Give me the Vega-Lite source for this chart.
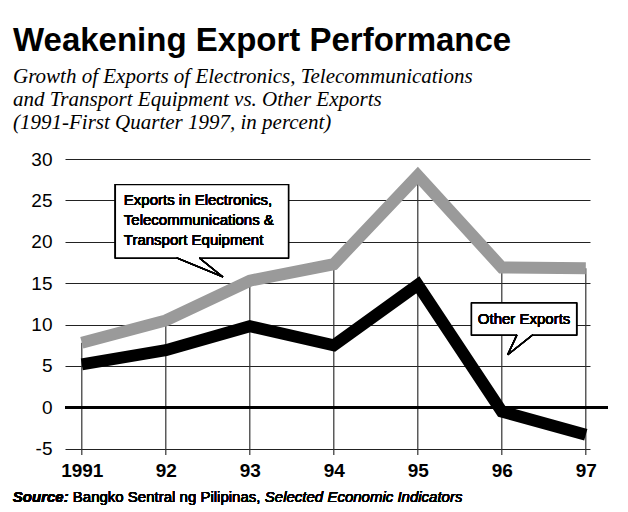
{
  "$schema": "https://vega.github.io/schema/vega-lite/v6.json",
  "autosize": {"type": "none"},
  "width": 525,
  "height": 296,
  "padding": {"left": 65, "top": 159, "right": 38, "bottom": 57},
  "background": "white",
  "title": {
    "text": "Weakening Export Performance",
    "subtitle": ["Growth of Exports of Electronics, Telecommunications", "and Transport Equipment vs. Other Exports", "(1991-First Quarter 1997, in percent)"],
    "anchor": "start",
    "frame": "group",
    "dx": -52,
    "offset": 17,
    "font": "Liberation Sans",
    "fontSize": 33,
    "fontWeight": "bold",
    "color": "black",
    "subtitleFont": "Liberation Serif",
    "subtitleFontStyle": "italic",
    "subtitleFontSize": 21,
    "subtitleColor": "black",
    "subtitleLineHeight": 23,
    "subtitlePadding": 8
  },
  "data": {"values": [
    {"year": 1991, "electronics": 7.8, "other": 5.2},
    {"year": 1992, "electronics": 10.5, "other": 6.9},
    {"year": 1993, "electronics": 15.3, "other": 9.8},
    {"year": 1994, "electronics": 17.3, "other": 7.5},
    {"year": 1995, "electronics": 28.0, "other": 14.8},
    {"year": 1996, "electronics": 16.9, "other": -0.5},
    {"year": 1997, "electronics": 16.8, "other": -3.3}
  ]},
  "encoding": {
    "x": {
      "field": "year", "type": "quantitative",
      "scale": {"domain": [1990.8, 1997.05], "nice": false, "zero": false},
      "axis": {
        "values": [1991, 1992, 1993, 1994, 1995, 1996, 1997],
        "labelExpr": "datum.value == 1991 ? '1991' : slice(toString(datum.value), 2)",
        "title": null, "grid": false, "domain": false, "ticks": false,
        "labelFont": "Liberation Sans",
        "labelFontSize": 19, "labelFontWeight": "bold", "labelColor": "black",
        "labelPadding": 6
      }
    }
  },
  "layer": [
    {
      "mark": {"type": "rule", "color": "#333", "strokeWidth": 1.2},
      "encoding": {
        "y": {
          "field": "electronics", "type": "quantitative",
          "scale": {"domain": [-5.75, 30], "nice": false, "zero": false},
          "axis": {
            "values": [-5, 0, 5, 10, 15, 20, 25, 30],
            "labelExpr": "datum.value < 0 ? '-' + abs(datum.value) : '' + datum.value",
            "title": null, "domain": false, "ticks": false,
            "grid": true, "gridColor": "#222", "gridWidth": 1, "gridOpacity": 1,
            "labelFont": "Liberation Sans",
            "labelFontSize": 19, "labelColor": "black", "labelPadding": 13
          }
        },
        "y2": {"datum": -5.75}
      }
    },
    {
      "mark": {"type": "rule", "color": "black", "strokeWidth": 3},
      "encoding": {"x": {"datum": 1990.8}, "x2": {"datum": 1997.26}, "y": {"datum": 0}}
    },
    {
      "mark": {"type": "line", "color": "#9a9a9a", "strokeWidth": 12, "strokeJoin": "miter", "strokeCap": "butt"},
      "encoding": {"y": {"field": "electronics", "type": "quantitative"}}
    },
    {
      "mark": {"type": "line", "color": "black", "strokeWidth": 12, "strokeJoin": "miter", "strokeCap": "butt"},
      "encoding": {"y": {"field": "other", "type": "quantitative"}}
    },
    {
      "mark": {"type": "rect", "fill": "white", "stroke": "black", "strokeWidth": 1.3},
      "encoding": {"x": {"datum": 1991.40}, "x2": {"datum": 1993.46}, "y": {"datum": 26.9}, "y2": {"datum": 18.05}}
    },
    {
      "mark": {"type": "rule", "color": "white", "strokeWidth": 3},
      "encoding": {"x": {"datum": 1992.14}, "x2": {"datum": 1992.39}, "y": {"datum": 18.05}, "y2": {"datum": 18.05}}
    },
    {
      "mark": {"type": "rule", "color": "black", "strokeWidth": 1.3},
      "encoding": {"x": {"datum": 1992.13}, "x2": {"datum": 1992.68}, "y": {"datum": 18.05}, "y2": {"datum": 15.76}}
    },
    {
      "mark": {"type": "rule", "color": "black", "strokeWidth": 1.3},
      "encoding": {"x": {"datum": 1992.40}, "x2": {"datum": 1992.68}, "y": {"datum": 18.05}, "y2": {"datum": 15.76}}
    },
    {
      "mark": {"type": "text", "align": "left", "baseline": "alphabetic", "lineHeight": 20, "font": "Liberation Sans", "fontSize": 15, "color": "black"},
      "encoding": {"x": {"datum": 1991.50}, "y": {"datum": 24.4}, "text": {"value": ["Exports in Electronics,", "Telecommunications &", "Transport Equipment"]}}
    },
    {
      "mark": {"type": "rect", "fill": "white", "stroke": "black", "strokeWidth": 1.3},
      "encoding": {"x": {"datum": 1995.64}, "x2": {"datum": 1996.89}, "y": {"datum": 12.6}, "y2": {"datum": 8.76}}
    },
    {
      "mark": {"type": "rule", "color": "white", "strokeWidth": 3},
      "encoding": {"x": {"datum": 1996.19}, "x2": {"datum": 1996.36}, "y": {"datum": 8.76}, "y2": {"datum": 8.76}}
    },
    {
      "mark": {"type": "rule", "color": "black", "strokeWidth": 1.3},
      "encoding": {"x": {"datum": 1996.18}, "x2": {"datum": 1996.07}, "y": {"datum": 8.76}, "y2": {"datum": 6.36}}
    },
    {
      "mark": {"type": "rule", "color": "black", "strokeWidth": 1.3},
      "encoding": {"x": {"datum": 1996.37}, "x2": {"datum": 1996.07}, "y": {"datum": 8.76}, "y2": {"datum": 6.36}}
    },
    {
      "mark": {"type": "text", "align": "center", "baseline": "middle", "font": "Liberation Sans", "fontSize": 15, "color": "black"},
      "encoding": {"x": {"datum": 1996.265}, "y": {"datum": 10.67}, "text": {"value": "Other Exports"}}
    },
    {
      "mark": {"type": "text", "align": "left", "baseline": "middle", "font": "Liberation Sans", "fontSize": 15, "fontWeight": "bold", "fontStyle": "italic", "color": "black"},
      "encoding": {"x": {"datum": 1990.179}, "y": {"datum": -10.77}, "text": {"value": "Source:"}}
    },
    {
      "mark": {"type": "text", "align": "left", "baseline": "middle", "font": "Liberation Sans", "fontSize": 15, "color": "black"},
      "encoding": {"x": {"datum": 1990.893}, "y": {"datum": -10.77}, "text": {"value": "Bangko Sentral ng Pilipinas,"}}
    },
    {
      "mark": {"type": "text", "align": "left", "baseline": "middle", "font": "Liberation Sans", "fontSize": 15, "fontStyle": "italic", "color": "black"},
      "encoding": {"x": {"datum": 1993.179}, "y": {"datum": -10.77}, "text": {"value": "Selected Economic Indicators"}}
    }
  ],
  "config": {"view": {"stroke": null}}
}
